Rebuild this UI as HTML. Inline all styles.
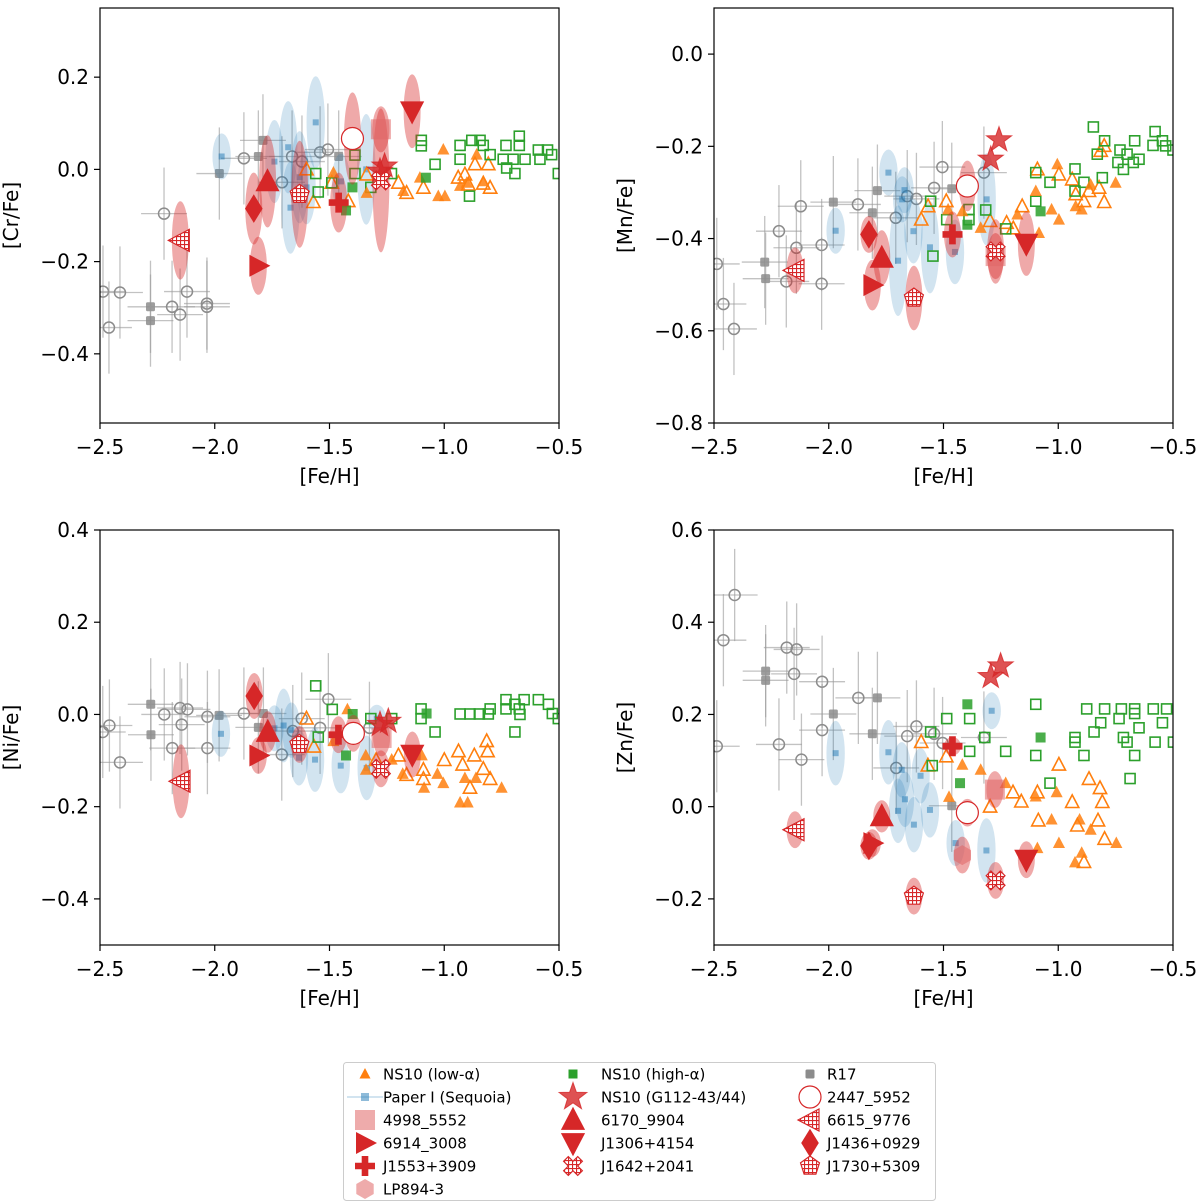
<!DOCTYPE html>
<html><head><meta charset="utf-8">
<style>
body{margin:0;background:#fff;}
svg{display:block;font-family:"DejaVu Sans","Liberation Sans",sans-serif;}
</style></head>
<body>
<svg id="chart" width="1200" height="1204" viewBox="0 0 1200 1204" xmlns="http://www.w3.org/2000/svg">
<defs>
<pattern id="hatch" patternUnits="userSpaceOnUse" width="4" height="4">
<rect width="4" height="4" fill="#fff"/>
<path d="M0 0.5H4M0.5 0V4" stroke="#d62728" stroke-width="1.2"/>
</pattern>
</defs>
</svg>
<script>
// ---------- data: Cr ----------
const crLowFeh=[-1.004,-0.859,-1.026,-0.997,-1.106,-0.931,-0.902,-1.178,-1.483,-1.338,-0.83];
const crLowVal=[0.043,0.032,-0.058,-0.058,-0.018,-0.036,-0.029,-0.047,-0.007,-0.051,-0.026];
const crOpenTriFeh=[-1.60,-1.57,-1.49,-1.20,-1.164,-1.091,-0.939,-0.91,-0.895,-0.866,-0.808,-0.83,-0.80,-1.418,-1.338];
const crOpenTriVal=[0.0,-0.071,-0.029,-0.029,-0.051,-0.040,-0.018,-0.011,-0.033,0.011,0.011,-0.031,-0.040,-0.069,-0.011];
const crHighFeh=[-1.40,-1.428,-1.08];
const crHighVal=[-0.039,-0.089,-0.018];
const crOpenSqFeh=[-1.389,-1.56,-1.549,-1.49,-1.389,-1.32,-1.10,-1.10,-1.04,-0.931,-0.931,-0.88,-0.844,-0.83,-0.80,-0.731,-0.673,-0.673,-0.743,-0.70,-0.648,-0.728,-0.692,-0.59,-0.55,-0.583,-0.532,-0.503,-0.89,-1.23];
const crOpenSqVal=[0.031,-0.009,-0.049,-0.029,-0.009,-0.039,0.063,0.051,0.011,0.052,0.022,0.063,0.063,0.052,0.032,0.052,0.072,0.052,0.022,0.022,0.022,0.003,-0.009,0.042,0.042,0.022,0.032,-0.009,-0.058,-0.009];
const crR17SqFeh=[-1.79,-1.81,-1.46,-1.98,-2.28,-2.28];
const crR17SqVal=[0.063,0.028,0.028,-0.009,-0.298,-0.328];
const crR17CiFeh=[-1.873,-1.663,-1.62,-1.707,-1.541,-1.507,-2.221,-2.487,-2.413,-2.461,-2.186,-2.121,-2.151,-2.034,-2.034];
const crR17CiVal=[0.024,0.028,0.017,-0.028,0.037,0.043,-0.096,-0.265,-0.267,-0.343,-0.298,-0.265,-0.315,-0.291,-0.298];
const crSeqFeh=[-1.97,-1.56,-1.68,-1.74,-1.63,-1.60,-1.67,-1.45,-1.34];
const crSeqVal=[0.028,0.102,0.048,0.017,-0.017,-0.039,-0.083,-0.026,0.0];
const crSeqErr=[0.05,0.1,0.1,0.09,0.1,0.08,0.1,0.06,0.12];
const crSpecFeh=[-1.276,-1.81,-1.46,null,-1.26,-1.28,-1.77,-1.14,-1.276,-1.40,-2.15,-1.83,-1.63];
const crSpecVal=[0.087,-0.209,-0.072,null,0.007,-0.004,-0.026,0.126,-0.024,0.067,-0.154,-0.085,-0.054];
const crSpecErr=[0.05,0.063,0.065,0,0,0,0.1,0.08,0.156,0.1,0.085,0.078,0.116];
// ---------- data: Mn ----------
const mnLowFeh=[-1.48,-1.418,-1.338,-1.178,-1.098,-1.029,-0.997,-1.004,-0.924,-0.898,-0.859,-0.75,-1.084];
const mnLowVal=[-0.337,-0.341,-0.377,-0.348,-0.297,-0.337,-0.359,-0.239,-0.330,-0.337,-0.283,-0.279,-0.388];
const mnOpenTriFeh=[-1.597,-1.567,-1.488,-1.297,-1.225,-1.196,-1.157,-1.091,-0.997,-0.939,-0.924,-0.888,-0.866,-0.822,-0.80,-0.815,-0.80];
const mnOpenTriVal=[-0.359,-0.330,-0.319,-0.362,-0.366,-0.378,-0.330,-0.250,-0.261,-0.272,-0.304,-0.319,-0.297,-0.290,-0.321,-0.210,-0.199];
const mnHighFeh=[-1.396,-1.077];
const mnHighVal=[-0.370,-0.341];
const mnOpenSqFeh=[-1.556,-1.486,-1.389,-1.389,-1.316,-1.229,-1.546,-1.098,-1.098,-1.036,-0.927,-0.927,-0.888,-0.808,-0.847,-0.798,-0.83,-0.731,-0.70,-0.74,-0.667,-0.716,-0.673,-0.648,-0.578,-0.587,-0.546,-0.532,-0.50];
const mnOpenSqVal=[-0.319,-0.359,-0.337,-0.359,-0.338,-0.379,-0.438,-0.257,-0.319,-0.278,-0.249,-0.297,-0.278,-0.268,-0.158,-0.188,-0.217,-0.208,-0.217,-0.235,-0.188,-0.250,-0.235,-0.228,-0.168,-0.198,-0.188,-0.199,-0.208];
const mnR17SqFeh=[-1.788,-1.98,-1.81,-1.464,-2.279,-2.275];
const mnR17SqVal=[-0.296,-0.321,-0.344,-0.292,-0.451,-0.487];
const mnR17CiFeh=[-2.488,-2.459,-2.413,-2.217,-2.185,-2.141,-2.122,-2.031,-2.031,-1.873,-1.708,-1.658,-1.618,-1.541,-1.505,-1.324];
const mnR17CiVal=[-0.455,-0.542,-0.596,-0.384,-0.493,-0.420,-0.330,-0.414,-0.498,-0.326,-0.355,-0.308,-0.314,-0.290,-0.245,-0.257];
const mnSeqFeh=[-1.97,-1.74,-1.68,-1.67,-1.631,-1.698,-1.559,-1.45,-1.312];
const mnSeqVal=[-0.383,-0.257,-0.315,-0.295,-0.384,-0.448,-0.419,-0.429,-0.315];
const mnSeqErr=[0.05,0.05,0.05,0.05,0.07,0.12,0.1,0.07,0.1];
const mnSpecFeh=[-1.273,-1.81,-1.461,null,-1.258,-1.294,-1.769,-1.139,-1.273,-1.396,-2.147,-1.825,-1.629];
const mnSpecVal=[-0.438,-0.501,-0.391,null,-0.186,-0.228,-0.442,-0.411,-0.428,-0.286,-0.469,-0.391,-0.529];
const mnSpecErr=[0.05,0.055,0.05,0,0,0,0.06,0.07,0.07,0.055,0.05,0.04,0.07];
// ---------- data: Ni ----------
const niLowFeh=[-1.422,-1.483,-1.342,-1.181,-1.098,-1.088,-1.030,-1.004,-0.931,-0.898,-0.91,-0.862,-0.75,-1.341,-1.229];
const niLowVal=[0.011,-0.058,-0.089,-0.129,-0.089,-0.159,-0.129,-0.149,-0.191,-0.191,-0.138,-0.138,-0.159,-0.12,-0.098];
const niOpenTriFeh=[-1.60,-1.568,-1.20,-1.164,-1.091,-1.091,-1.0,-0.938,-0.92,-0.888,-0.869,-0.83,-0.815,-0.811,-0.80,-1.297];
const niOpenTriVal=[-0.009,-0.07,-0.089,-0.131,-0.12,-0.14,-0.099,-0.08,-0.109,-0.159,-0.089,-0.118,-0.058,-0.08,-0.14,-0.099];
const niHighFeh=[-1.399,-1.077,-1.428];
const niHighVal=[0.001,0.002,-0.089];
const niOpenSqFeh=[-1.56,-1.488,-1.549,-1.32,-1.229,-1.101,-1.101,-1.04,-0.931,-0.888,-0.847,-0.808,-0.8,-0.731,-0.731,-0.692,-0.673,-0.67,-0.652,-0.692,-0.59,-0.546,-0.529,-0.503];
const niOpenSqVal=[0.062,0.011,-0.049,-0.009,-0.009,0.012,-0.009,-0.038,0.001,0.001,0.001,0.001,0.012,0.032,0.012,0.022,0.012,0.0,0.032,-0.038,0.032,0.022,0.002,-0.009];
const niR17SqFeh=[-2.279,-2.278,-1.981,-1.788,-1.81];
const niR17SqVal=[0.022,-0.044,-0.002,0.002,-0.028];
const niR17CiFeh=[-2.488,-2.459,-2.413,-2.22,-2.185,-2.151,-2.119,-2.144,-2.032,-2.032,-1.873,-1.708,-1.66,-1.621,-1.541,-1.505,-1.326];
const niR17CiVal=[-0.038,-0.024,-0.104,0.0,-0.073,0.014,0.011,-0.022,-0.005,-0.073,0.002,-0.087,-0.036,-0.009,-0.029,0.033,-0.029];
const niSeqFeh=[-1.973,-1.70,-1.74,-1.666,-1.633,-1.563,-1.451,-1.338,-1.294];
const niSeqVal=[-0.042,-0.024,-0.03,-0.034,-0.094,-0.098,-0.111,-0.116,-0.009];
const niSeqErr=[0.05,0.08,0.05,0.06,0.06,0.07,0.06,0.07,0.03];
const niSpecFeh=[-1.273,-1.81,-1.461,null,-1.28,-1.244,-1.769,-1.139,-1.276,-1.396,-2.147,-1.828,-1.631];
const niSpecVal=[-0.051,-0.089,-0.044,null,-0.022,-0.015,-0.038,-0.087,-0.118,-0.041,-0.145,0.040,-0.065];
const niSpecErr=[0.04,0.04,0.04,0,0,0,0.045,0.05,0.04,0.04,0.08,0.05,0.04];
// ---------- data: Zn ----------
const znLowFeh=[-1.418,-1.338,-1.229,-1.476,-1.098,-1.029,-1.007,-0.997,-1.091,-0.907,-0.859,-0.747,-0.898,-0.927];
const znLowVal=[0.091,0.08,0.051,0.021,0.022,-0.028,0.031,-0.079,-0.09,-0.028,-0.05,-0.079,-0.1,-0.121];
const znOpenTriFeh=[-1.597,-1.488,-1.568,-1.297,-1.197,-1.161,-1.091,-1.087,-0.997,-0.939,-0.917,-0.866,-0.818,-0.808,-0.827,-0.798,-0.888];
const znOpenTriVal=[0.14,0.109,0.089,0.0,0.031,0.011,0.031,-0.03,0.091,0.01,-0.041,0.06,0.04,0.01,-0.03,-0.07,-0.12];
const znHighFeh=[-1.396,-1.077,-1.428];
const znHighVal=[0.222,0.15,0.051];
const znOpenSqFeh=[-1.486,-1.386,-1.556,-1.32,-1.386,-1.229,-1.549,-1.098,-1.098,-1.036,-0.876,-0.798,-0.725,-0.667,-0.667,-0.735,-0.815,-0.844,-0.927,-0.927,-0.888,-0.716,-0.7,-0.648,-0.667,-0.687,-0.586,-0.528,-0.546,-0.578,-0.498];
const znOpenSqVal=[0.191,0.191,0.162,0.15,0.12,0.12,0.089,0.222,0.111,0.051,0.212,0.212,0.212,0.212,0.202,0.191,0.182,0.162,0.15,0.14,0.111,0.15,0.14,0.171,0.111,0.061,0.212,0.212,0.182,0.14,0.14];
const znR17SqFeh=[-2.275,-2.275,-1.98,-1.788,-1.81,-1.464];
const znR17SqVal=[0.294,0.274,0.201,0.236,0.158,0.002];
const znR17CiFeh=[-2.41,-2.459,-2.488,-2.183,-2.14,-2.151,-2.217,-2.119,-2.029,-2.029,-1.871,-1.706,-1.658,-1.618,-1.541,-1.504,-1.324];
const znR17CiVal=[0.459,0.361,0.131,0.345,0.341,0.288,0.135,0.102,0.271,0.166,0.236,0.084,0.153,0.174,0.158,0.138,0.15];
const znSeqFeh=[-1.97,-1.74,-1.682,-1.6,-1.668,-1.698,-1.559,-1.629,-1.447,-1.313,-1.29];
const znSeqVal=[0.116,0.118,0.08,0.067,0.016,-0.009,-0.007,-0.039,-0.079,-0.095,0.208];
const znSeqErr=[0.07,0.07,0.06,0.06,0.06,0.07,0.06,0.06,0.05,0.07,0.04];
const znSpecFeh=[-1.276,-1.81,-1.461,-1.418,-1.251,-1.294,-1.769,-1.139,-1.273,-1.396,-2.147,-1.825,-1.629];
const znSpecVal=[0.037,-0.079,0.131,-0.105,0.305,0.282,-0.021,-0.115,-0.16,-0.013,-0.050,-0.085,-0.194];
const znSpecErr=[0.04,0.03,0.02,0.04,0,0,0.035,0.04,0.04,0.03,0.04,0.03,0.04];
// ---------- axes ----------
const xTickVals=[-2.5,-2.0,-1.5,-1.0,-0.5];
const xTickLabels=["−2.5","−2.0","−1.5","−1.0","−0.5"];
const crTicks=[-0.4,-0.2,0.0,0.2], crTickLabels=["−0.4","−0.2","0.0","0.2"];
const mnTicks=[-0.8,-0.6,-0.4,-0.2,0.0], mnTickLabels=["−0.8","−0.6","−0.4","−0.2","0.0"];
const niTicks=[-0.4,-0.2,0.0,0.2,0.4], niTickLabels=["−0.4","−0.2","0.0","0.2","0.4"];
const znTicks=[-0.2,0.0,0.2,0.4,0.6], znTickLabels=["−0.2","0.0","0.2","0.4","0.6"];
const specNames=["4998_5552","6914_3008","J1553+3909","LP894-3","G112-43","G112-44","6170_9904","J1306+4154","J1642+2041","2447_5952","6615_9776","J1436+0929","J1730+5309"];
const specShapes=["square","right","plus","hex","star","star","up","down","xcross","circle","left","diamond","pentagon"];

const NS="http://www.w3.org/2000/svg";
const svg=document.getElementById('chart');
function el(tag,attrs,parent){const e=document.createElementNS(NS,tag);for(const k in attrs)e.setAttribute(k,attrs[k]);(parent||svg).appendChild(e);return e;}
function poly(pts){return pts.map(p=>p[0].toFixed(1)+","+p[1].toFixed(1)).join(" ");}
function regPts(cx,cy,r,n,rot){const a=[];for(let i=0;i<n;i++){const t=rot+i*2*Math.PI/n;a.push([cx+r*Math.sin(t),cy-r*Math.cos(t)]);}return a;}
function shapeEl(shape,cx,cy,s,g){
  let e;
  if(shape==="square"){e=el('rect',{x:cx-s/2,y:cy-s/2,width:s,height:s},g);}
  else if(shape==="circle"){e=el('circle',{cx:cx,cy:cy,r:s/2},g);}
  else if(shape==="up"){e=el('polygon',{points:poly([[cx,cy-s*0.6],[cx+s*0.55,cy+s*0.45],[cx-s*0.55,cy+s*0.45]])},g);}
  else if(shape==="down"){e=el('polygon',{points:poly([[cx,cy+s*0.6],[cx+s*0.55,cy-s*0.45],[cx-s*0.55,cy-s*0.45]])},g);}
  else if(shape==="right"){e=el('polygon',{points:poly([[cx+s*0.6,cy],[cx-s*0.45,cy-s*0.55],[cx-s*0.45,cy+s*0.55]])},g);}
  else if(shape==="left"){e=el('polygon',{points:poly([[cx-s*0.6,cy],[cx+s*0.45,cy-s*0.55],[cx+s*0.45,cy+s*0.55]])},g);}
  else if(shape==="diamond"){e=el('polygon',{points:poly([[cx,cy-s*0.65],[cx+s*0.4,cy],[cx,cy+s*0.65],[cx-s*0.4,cy]])},g);}
  else if(shape==="plus"){const a=s/2,b=s/6;e=el('polygon',{points:poly([[cx-b,cy-a],[cx+b,cy-a],[cx+b,cy-b],[cx+a,cy-b],[cx+a,cy+b],[cx+b,cy+b],[cx+b,cy+a],[cx-b,cy+a],[cx-b,cy+b],[cx-a,cy+b],[cx-a,cy-b],[cx-b,cy-b]])},g);}
  else if(shape==="xcross"){const a=s/2,b=s/6;const pts=[[-b,-a],[b,-a],[b,-b],[a,-b],[a,b],[b,b],[b,a],[-b,a],[-b,b],[-a,b],[-a,-b],[-b,-b]].map(p=>{const c=Math.SQRT1_2;return[cx+(p[0]-p[1])*c,cy+(p[0]+p[1])*c];});e=el('polygon',{points:poly(pts)},g);}
  else if(shape==="pentagon"){e=el('polygon',{points:poly(regPts(cx,cy,s/2,5,0))},g);}
  else if(shape==="hex"){e=el('polygon',{points:poly(regPts(cx,cy,s/2,6,0))},g);}
  else if(shape==="star"){const a=[];for(let i=0;i<10;i++){const r=i%2?s*0.22:s*0.55;const t=i*Math.PI/5;a.push([cx+r*Math.sin(t),cy-r*Math.cos(t)]);}e=el('polygon',{points:poly(a)},g);}
  return e;
}
function specStyle(shape){
  if(shape==="circle")return{fill:"#fff",stroke:"#d62728","stroke-width":1.2};
  if(shape==="left"||shape==="xcross"||shape==="pentagon")return{fill:"url(#hatch)",stroke:"#d62728","stroke-width":1.2};
  if(shape==="star")return{fill:"#d62728","fill-opacity":0.8,stroke:"#d62728","stroke-opacity":0.8};
  if(shape==="square"||shape==="hex")return{fill:"#e06666","fill-opacity":0.55};
  return{fill:"#d62728"};
}
function specSize(shape){return {square:20,right:20,plus:20,hex:20,star:24,up:22,down:22,xcross:20,circle:22,left:20,diamond:22,pentagon:20}[shape];}

const panels=[
 {key:"cr",left:100,top:8,ymin:-0.55,ymax:0.35,ticks:crTicks,tickLabels:crTickLabels,label:"[Cr/Fe]",
  low:[crLowFeh,crLowVal],otri:[crOpenTriFeh,crOpenTriVal],high:[crHighFeh,crHighVal],osq:[crOpenSqFeh,crOpenSqVal],
  rsq:[crR17SqFeh,crR17SqVal],rci:[crR17CiFeh,crR17CiVal],seq:[crSeqFeh,crSeqVal,crSeqErr],spec:[crSpecFeh,crSpecVal,crSpecErr]},
 {key:"mn",left:714,top:8,ymin:-0.8,ymax:0.1,ticks:mnTicks,tickLabels:mnTickLabels,label:"[Mn/Fe]",
  low:[mnLowFeh,mnLowVal],otri:[mnOpenTriFeh,mnOpenTriVal],high:[mnHighFeh,mnHighVal],osq:[mnOpenSqFeh,mnOpenSqVal],
  rsq:[mnR17SqFeh,mnR17SqVal],rci:[mnR17CiFeh,mnR17CiVal],seq:[mnSeqFeh,mnSeqVal,mnSeqErr],spec:[mnSpecFeh,mnSpecVal,mnSpecErr]},
 {key:"ni",left:100,top:530,ymin:-0.5,ymax:0.4,ticks:niTicks,tickLabels:niTickLabels,label:"[Ni/Fe]",
  low:[niLowFeh,niLowVal],otri:[niOpenTriFeh,niOpenTriVal],high:[niHighFeh,niHighVal],osq:[niOpenSqFeh,niOpenSqVal],
  rsq:[niR17SqFeh,niR17SqVal],rci:[niR17CiFeh,niR17CiVal],seq:[niSeqFeh,niSeqVal,niSeqErr],spec:[niSpecFeh,niSpecVal,niSpecErr]},
 {key:"zn",left:714,top:530,ymin:-0.3,ymax:0.6,ticks:znTicks,tickLabels:znTickLabels,label:"[Zn/Fe]",
  low:[znLowFeh,znLowVal],otri:[znOpenTriFeh,znOpenTriVal],high:[znHighFeh,znHighVal],osq:[znOpenSqFeh,znOpenSqVal],
  rsq:[znR17SqFeh,znR17SqVal],rci:[znR17CiFeh,znR17CiVal],seq:[znSeqFeh,znSeqVal,znSeqErr],spec:[znSpecFeh,znSpecVal,znSpecErr]}
];
const W=459,H=415;

panels.forEach(p=>{
  const g=el('g',{});
  
  
  const xs=v=>p.left+(v+2.5)/2*W;
  const ys=v=>p.top+(p.ymax-v)/(p.ymax-p.ymin)*H;
  const py=v=>H/(p.ymax-p.ymin)*v;
  const px=v=>W/2*v;
  const clipId='clip-'+p.key;
  const cp=el('clipPath',{id:clipId},g);el('rect',{x:p.left,y:p.top,width:W,height:H},cp);
  const plot=el('g',{'clip-path':'url(#'+clipId+')'},g);
  
  
  const r17=el('g',{},plot);
  
  
  [[p.rsq,'sq'],[p.rci,'ci']].forEach(([d,t])=>{
    d[0].forEach((fx,i)=>{
      const cx=xs(fx),cy=ys(d[1][i]);
      el('line',{x1:cx-px(0.1),x2:cx+px(0.1),y1:cy,y2:cy,stroke:"#999","stroke-opacity":0.6,"stroke-width":1.3},r17);
      el('line',{x1:cx,x2:cx,y1:cy-py(0.1),y2:cy+py(0.1),stroke:"#999","stroke-opacity":0.6,"stroke-width":1.3},r17);
      let m;
      if(t==='sq'){m=el('rect',{x:cx-4.5,y:cy-4.5,width:9,height:9,rx:1.5,fill:"#8c8c8c","fill-opacity":0.85},r17);}
      else{m=el('circle',{cx:cx,cy:cy,r:5.5,fill:"none",stroke:"#8c8c8c","stroke-width":1.5},r17);}
      
      
    });
  });
  const seq=el('g',{},plot);
  
  
  p.seq[0].forEach((fx,i)=>{
    const cx=xs(fx),cy=ys(p.seq[1][i]);
    el('ellipse',{cx:cx,cy:cy,rx:px(0.04),ry:py(p.seq[2][i]),fill:"#1f77b4","fill-opacity":0.2},seq);
    const m=el('rect',{x:cx-3,y:cy-3,width:6,height:6,fill:"#1f77b4","fill-opacity":0.5},seq);
    
    
  });
  const ns=el('g',{},plot);
  
  
  p.otri[0].forEach((fx,i)=>{const m=shapeEl('up',xs(fx),ys(p.otri[1][i]),12,ns);m.setAttribute('fill','none');m.setAttribute('stroke','#ff7f0e');m.setAttribute('stroke-width','1.6');
    
    });
  p.osq[0].forEach((fx,i)=>{const m=el('rect',{x:xs(fx)-5,y:ys(p.osq[1][i])-5,width:10,height:10,fill:"none",stroke:"#2ca02c","stroke-width":1.6},ns);
    
    });
  p.low[0].forEach((fx,i)=>{const m=shapeEl('up',xs(fx),ys(p.low[1][i]),11,ns);m.setAttribute('fill','#ff7f0e');m.setAttribute('fill-opacity','0.85');
    
    });
  p.high[0].forEach((fx,i)=>{const m=el('rect',{x:xs(fx)-5,y:ys(p.high[1][i])-5,width:10,height:10,fill:"#2ca02c","fill-opacity":0.85},ns);
    
    });
  const sp=el('g',{},plot);
  
  
  p.spec[0].forEach((fx,i)=>{
    if(fx===null)return;
    const cx=xs(fx),cy=ys(p.spec[1][i]);
    if(p.spec[2][i]>0)el('ellipse',{cx:cx,cy:cy,rx:px(0.037),ry:py(p.spec[2][i]),fill:"#d62728","fill-opacity":0.4},sp);
  });
  p.spec[0].forEach((fx,i)=>{
    if(fx===null)return;
    const sh=specShapes[i];
    const m=shapeEl(sh,xs(fx),ys(p.spec[1][i]),specSize(sh),sp);
    const st=specStyle(sh);for(const k in st)m.setAttribute(k,st[k]);
    
    
  });
  const fr=el('rect',{x:p.left,y:p.top,width:W,height:H,fill:"none",stroke:"#000","stroke-width":1.2},g);
  
  
  xTickVals.forEach((v,i)=>{
    const x=xs(v);
    el('line',{x1:x,x2:x,y1:p.top+H,y2:p.top+H+6,stroke:"#000","stroke-width":1.2},g);
    const t=el('text',{x:x,y:p.top+H+31,"text-anchor":"middle","font-size":20},g);
    t.textContent=xTickLabels[i];
    
    
  });
  p.ticks.forEach((v,i)=>{
    const y=ys(v);
    el('line',{x1:p.left-6,x2:p.left,y1:y,y2:y,stroke:"#000","stroke-width":1.2},g);
    const t=el('text',{x:p.left-11,y:y+7,"text-anchor":"end","font-size":20},g);
    t.textContent=p.tickLabels[i];
    
    
  });
  const xl=el('text',{x:p.left+W/2,y:p.top+H+60,"text-anchor":"middle","font-size":20},g);
  xl.textContent="[Fe/H]";
  
  
  const yc=p.top+H/2, yx=p.left-82;
  const yl=el('text',{x:yx,y:yc,"text-anchor":"middle","font-size":20,transform:`rotate(-90 ${yx} ${yc})`},g);
  yl.textContent=p.label;
  
  
});

const lg=el('g',{});


el('rect',{x:343.5,y:1062.5,width:592,height:138,rx:3,fill:"#fff",stroke:"#ccc"},lg);
const legendItems=[
 [365,1074,"ns10low","NS10 (low-α)"],[365,1097,"paper1","Paper I (Sequoia)"],[365,1120,"square","4998_5552"],[365,1143,"right","6914_3008"],[365,1166,"plus","J1553+3909"],[365,1189,"hex","LP894-3"],
 [573,1074,"ns10high","NS10 (high-α)"],[573,1097,"star","NS10 (G112-43/44)"],[573,1120,"up","6170_9904"],[573,1143,"down","J1306+4154"],[573,1166,"xcross","J1642+2041"],
 [810,1074,"r17","R17"],[810,1097,"circle","2447_5952"],[810,1120,"left","6615_9776"],[810,1143,"diamond","J1436+0929"],[810,1166,"pentagon","J1730+5309"]
];
const textOff={365:383,573:601,810:827};
legendItems.forEach(([x,y,k,label])=>{
  const it=el('g',{},lg);
  
  
  if(k==="ns10low"){const m=shapeEl('up',x,y,10,it);m.setAttribute('fill','#ff7f0e');}
  else if(k==="ns10high"){el('rect',{x:x-4.5,y:y-4.5,width:9,height:9,fill:"#2ca02c"},it);}
  else if(k==="r17"){el('rect',{x:x-4.5,y:y-4.5,width:9,height:9,rx:1.5,fill:"#8c8c8c"},it);}
  else if(k==="paper1"){el('line',{x1:x-18,x2:x+18,y1:y,y2:y,stroke:"#1f77b4","stroke-opacity":0.4,"stroke-width":1},it);el('rect',{x:x-4,y:y-4,width:8,height:8,fill:"#1f77b4","fill-opacity":0.5},it);}
  else{const s=specSize(k)*(k==="star"?1.1:1);const m=shapeEl(k,x,y,s,it);const st=specStyle(k);for(const kk in st)m.setAttribute(kk,st[kk]);}
  const t=el('text',{x:textOff[x],y:y+5.5,"font-size":15},it);
  t.textContent=label;
});
</script>
</body></html>
